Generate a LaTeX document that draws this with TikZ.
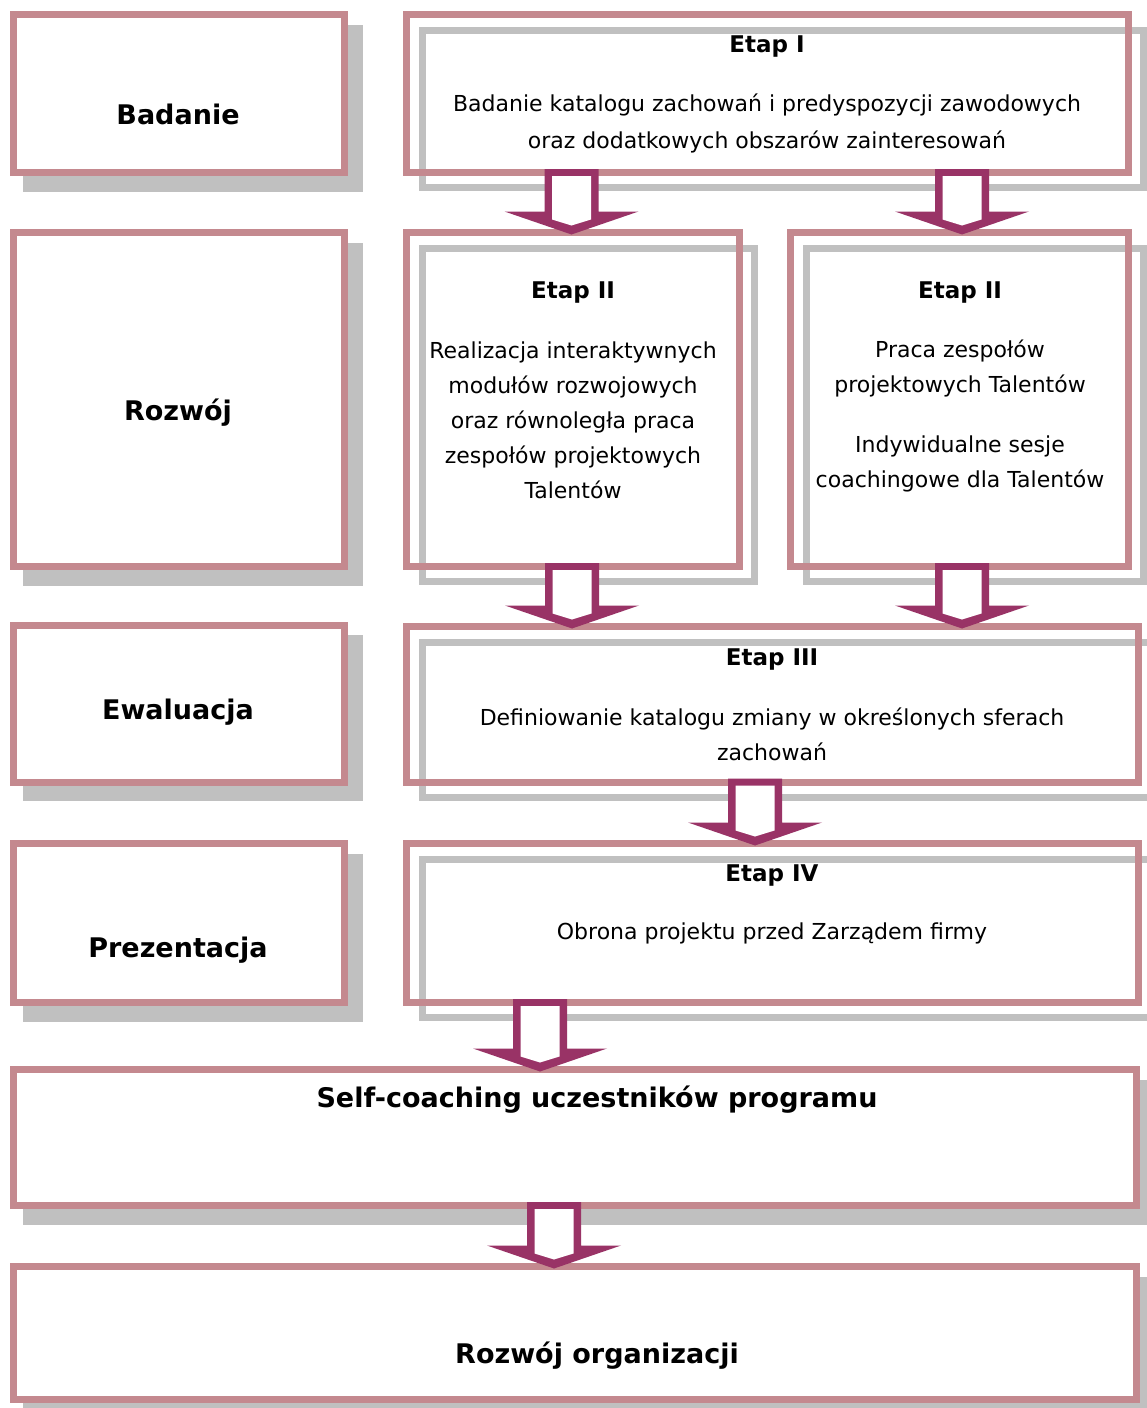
\documentclass[tikz,border=0pt]{standalone}
\usepackage{fontspec}
\setmainfont{DejaVu Sans}
\usetikzlibrary{calc,fit,backgrounds}
\definecolor{framepink}{RGB}{196,137,143}
\definecolor{shadowgray}{RGB}{192,192,192}
\definecolor{arrowplum}{RGB}{153,51,102}

% block arrow: x position, upper box, lower box
\newcommand{\flowarrow}[3]{%
  \coordinate (fa) at (#1,0 |- #2.south);
  \coordinate (fb) at (#1,0 |- #3.north);
  \coordinate (ftop) at ($(fa)+(0,-3.5)$);
  \coordinate (ftip) at ($(fb)+(0,2)$);
  \fill[arrowplum] ($(ftop)+(-27,0)$) -- ($(ftop)+(27,0)$) -- ($(ftip)+(27,-23)$)
    -- ($(ftip)+(67,-23)$) -- (ftip) -- ($(ftip)+(-67,-23)$) -- ($(ftip)+(-27,-23)$) -- cycle;
  \fill[white] ($(ftop)+(-19.5,7)$) -- ($(ftop)+(19.5,7)$) -- ($(ftip)+(19.5,-15)$)
    -- ($(ftip)+(0,-9)$) -- ($(ftip)+(-19.5,-15)$) -- cycle;
}

\begin{document}
\begin{tikzpicture}[
    x=0.5pt, y=-0.5pt,
    sidebox/.style={draw=framepink, line width=3.5pt, fill=white, inner sep=0pt, outer sep=0pt},
    stagebox/.style={draw=framepink, line width=3.5pt, inner sep=0pt, outer sep=0pt},
    stageshadow/.style={draw=shadowgray, line width=3.5pt},
    sidelabel/.style={font=\fontsize{13.5}{16}\selectfont\bfseries},
    stagehead/.style={font=\fontsize{11.5}{14}\selectfont\bfseries},
    stagetext/.style={font=\fontsize{11}{17.5}\selectfont, align=center}
]

\useasboundingbox (0,0) rectangle (1146,1408);

% === Left column: phases ===
\node[sidebox, fit={(13,14.5) (344,172.5)}] (badanie) {};
\node[sidebox, fit={(13,232.5) (344,566.5)}] (rozwoj) {};
\node[sidebox, fit={(13,625) (344,782)}] (ewaluacja) {};
\node[sidebox, fit={(13,843.5) (344,1002.5)}] (prezentacja) {};

\node[sidelabel] (badanielbl) at (178,114) {Badanie};
\node[sidelabel] (rozwojlbl) at (178,413) {Rozwój};
\node[sidelabel] (ewaluacjalbl) at (178,712) {Ewaluacja};
\node[sidelabel] (prezentacjalbl) at (178,950) {Prezentacja};

% === Right column: stages ===
\node[stagebox, fit={(406.5,14.5) (1128,172.5)}] (etap1) {};
\node[stagebox, fit={(406.5,232.5) (739.5,566.5)}] (etap2a) {};
\node[stagebox, fit={(790.5,232.5) (1128,566.5)}] (etap2b) {};
\node[stagebox, fit={(406.5,626.5) (1138,782)}] (etap3) {};
\node[stagebox, fit={(406.5,843.5) (1138,1002.5)}] (etap4) {};

% Etap I
\node[stagehead] (etap1head) at (767,47) {Etap I};
\node[stagetext, font=\fontsize{11}{18.5}\selectfont] (etap1txt) at (767,123) {Badanie katalogu zachowań i predyspozycji zawodowych\\oraz dodatkowych obszarów zainteresowań};

% Etap II (two branches)
\node[stagehead] (etap2ahead) at (573,293) {Etap II};
\node[stagetext] (etap2atxt) at (573,420) {Realizacja interaktywnych\\modułów rozwojowych\\oraz równoległa praca\\zespołów projektowych\\Talentów};
\node[stagehead] (etap2bhead) at (960,293) {Etap II};
\node[stagetext] (etap2btxt) at (960,368.5) {Praca zespołów\\projektowych Talentów};
\node[stagetext] (etap2bsub) at (960,463.5) {Indywidualne sesje\\coachingowe dla Talentów};

% Etap III
\node[stagehead] (etap3head) at (772,659) {Etap III};
\node[stagetext] (etap3txt) at (772,734) {Definiowanie katalogu zmiany w określonych sferach\\zachowań};

% Etap IV
\node[stagehead] (etap4head) at (772,875) {Etap IV};
\node[stagetext] (etap4txt) at (772,933) {Obrona projektu przed Zarządem firmy};

% === Bottom: full-width boxes ===
\node[sidebox, fit={(13,1069.5) (1136.5,1205.5)}] (selfcoach) {};
\node[sidebox, fit={(13,1266.5) (1136.5,1399.5)}] (organizacja) {};
\node[sidelabel] (selfcoachlbl) at (597,1100) {Self-coaching uczestników programu};
\node[sidelabel] (organizacjalbl) at (597,1356) {Rozwój organizacji};

% Shadows
\begin{scope}[on background layer]
\fill[white] (0,0) rectangle (1146,1408);
\foreach \b in {badanie,rozwoj,ewaluacja,prezentacja,selfcoach,organizacja}
    \fill[shadowgray] ($(\b.north west)+(10,10)$) rectangle ($(\b.south east)+(19,19)$);
\foreach \b in {etap1,etap2a,etap2b,etap3,etap4}
    \draw[stageshadow] ($(\b.north west)+(15.5,15.5)$) rectangle ($(\b.south east)+(15,15)$);
\end{scope}

% Arrows
\flowarrow{571.5}{etap1}{etap2a}
\flowarrow{962}{etap1}{etap2b}
\flowarrow{572}{etap2a}{etap3}
\flowarrow{962}{etap2b}{etap3}
\flowarrow{755}{etap3}{etap4}
\flowarrow{540}{etap4}{selfcoach}
\flowarrow{554}{selfcoach}{organizacja}

\end{tikzpicture}
\end{document}
